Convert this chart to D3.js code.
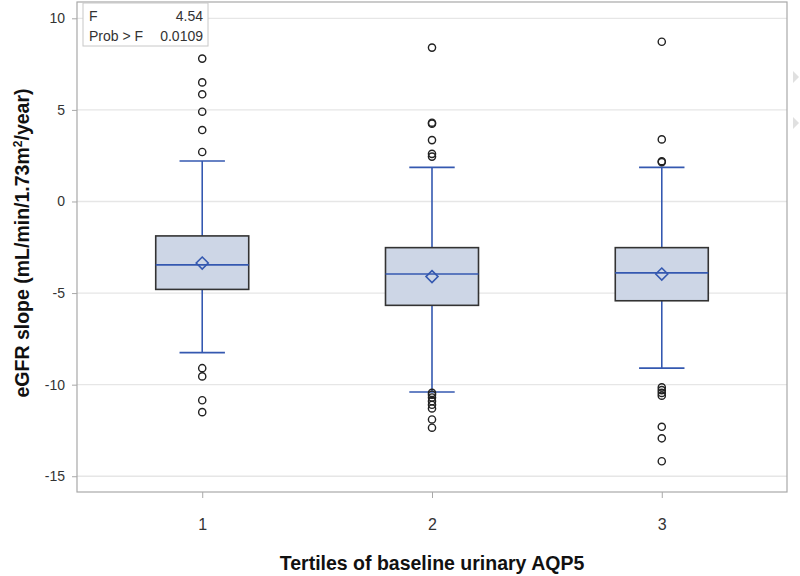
<!DOCTYPE html>
<html>
<head>
<meta charset="utf-8">
<script src="https://cdn.jsdelivr.net/npm/d3@7"></script>
<style>
  body { margin: 0; background: #fff; }
  svg { display: block; font-family: 'Liberation Sans', Arial, sans-serif; }
</style>
</head>
<body>
<figure style="margin:0"></figure>
<script>
const width = 800
const height = 576

// values
const groups = ['1', '2', '3']
const q1 = [-4.80, -5.67, -5.42]
const median = [-3.46, -3.96, -3.90]
const q3 = [-1.88, -2.52, -2.52]
const mean = [-3.36, -4.10, -3.96]
const whiskerLow = [-8.25, -10.40, -9.10]
const whiskerHigh = [2.21, 1.86, 1.86]
const outliers = [
  [7.8, 6.5, 5.85, 4.9, 3.9, 2.7, -9.1, -9.55, -10.85, -11.5],
  [8.4, 4.3, 4.25, 3.35, 2.6, 2.45, -10.45, -10.55, -10.7, -10.9, -11.1, -11.3, -11.9, -12.35],
  [8.72, 3.39, 2.2, 2.15, -10.15, -10.3, -10.45, -10.6, -12.3, -12.93, -14.18]
]
const yTicks = [10, 5, 0, -5, -10, -15]
const statLabels = ['F', 'Prob > F']
const statValues = ['4.54', '0.0109']

const margin = { left: 77, right: 13, top: 2, bottom: 84 }

const svg = d3.select('figure').append('svg')
  .attr('width', width)
  .attr('height', height)

const x = d3.scalePoint()
  .domain(groups)
  .range([margin.left, width - margin.right])
  .padding(0.545)

const y = d3.scaleLinear()
  .domain([-15.86, 10.89])
  .range([height - margin.bottom, margin.top])

const boxHalf = 46.5
const capHalf = 22.7
const blue = '#3458b0'

// grid
svg.append('g')
  .selectAll('line')
  .data(yTicks)
  .join('line')
  .attr('x1', margin.left)
  .attr('x2', width - margin.right)
  .attr('y1', d => y(d))
  .attr('y2', d => y(d))
  .attr('stroke', '#e6e6e6')
  .attr('stroke-width', 1.3)

// frame
svg.append('rect')
  .attr('x', margin.left)
  .attr('y', margin.top)
  .attr('width', width - margin.left - margin.right)
  .attr('height', height - margin.top - margin.bottom)
  .attr('fill', 'none')
  .attr('stroke', '#a8a8a8')
  .attr('stroke-width', 1.2)

// axes
const yAxis = svg.append('g')
  .attr('transform', `translate(${margin.left},0)`)
  .call(d3.axisLeft(y).tickValues(yTicks).tickFormat(d => String(d)).tickSize(5).tickPadding(7))
yAxis.select('.domain').remove()
yAxis.selectAll('line').attr('stroke', '#a8a8a8')
yAxis.selectAll('text').attr('font-size', 14).attr('fill', '#333')

const xAxis = svg.append('g')
  .attr('transform', `translate(0,${height - margin.bottom})`)
  .call(d3.axisBottom(x).tickSize(6).tickPadding(21))
xAxis.select('.domain').remove()
xAxis.selectAll('line').attr('stroke', '#a8a8a8')
xAxis.selectAll('text').attr('font-size', 16).attr('fill', '#333')

// boxes
const rows = groups.map((g, i) => ({
  g,
  q1: q1[i],
  median: median[i],
  q3: q3[i],
  mean: mean[i],
  lo: whiskerLow[i],
  hi: whiskerHigh[i],
  out: outliers[i]
}))

const box = svg.append('g')
  .selectAll('g')
  .data(rows)
  .join('g')
  .attr('transform', d => `translate(${x(d.g)},0)`)

box.append('line')
  .attr('y1', d => y(d.hi))
  .attr('y2', d => y(d.q3))
  .attr('stroke', blue).attr('stroke-width', 1.6)
box.append('line')
  .attr('y1', d => y(d.q1))
  .attr('y2', d => y(d.lo))
  .attr('stroke', blue).attr('stroke-width', 1.6)
box.append('line')
  .attr('x1', -capHalf).attr('x2', capHalf)
  .attr('y1', d => y(d.hi)).attr('y2', d => y(d.hi))
  .attr('stroke', blue).attr('stroke-width', 1.6)
box.append('line')
  .attr('x1', -capHalf).attr('x2', capHalf)
  .attr('y1', d => y(d.lo)).attr('y2', d => y(d.lo))
  .attr('stroke', blue).attr('stroke-width', 1.6)

box.append('rect')
  .attr('x', -boxHalf)
  .attr('width', boxHalf * 2)
  .attr('y', d => y(d.q3))
  .attr('height', d => y(d.q1) - y(d.q3))
  .attr('fill', '#cdd6e6')
  .attr('stroke', '#333')
  .attr('stroke-width', 1.6)

box.append('line')
  .attr('x1', -boxHalf).attr('x2', boxHalf)
  .attr('y1', d => y(d.median)).attr('y2', d => y(d.median))
  .attr('stroke', blue).attr('stroke-width', 1.6)

box.append('path')
  .attr('d', d => {
    const cy = y(d.mean)
    return `M0,${cy - 6}L6,${cy}L0,${cy + 6}L-6,${cy}Z`
  })
  .attr('fill', 'none')
  .attr('stroke', blue)
  .attr('stroke-width', 1.6)

box.selectAll('circle')
  .data(d => d.out)
  .join('circle')
  .attr('cy', d => y(d))
  .attr('r', 3.6)
  .attr('fill', 'none')
  .attr('stroke', '#222')
  .attr('stroke-width', 1.4)

// stats inset
const inset = svg.append('g').attr('transform', 'translate(83,3)')
inset.append('rect')
  .attr('width', 125).attr('height', 43)
  .attr('fill', '#fff')
  .attr('stroke', '#c8c8c8')
inset.selectAll('.lab')
  .data(statLabels)
  .join('text')
  .attr('class', 'lab')
  .attr('x', 6)
  .attr('y', (d, i) => 18 + i * 20)
  .attr('font-size', 14)
  .attr('fill', '#333')
  .text(d => d)
inset.selectAll('.val')
  .data(statValues)
  .join('text')
  .attr('class', 'val')
  .attr('x', 120)
  .attr('y', (d, i) => 18 + i * 20)
  .attr('text-anchor', 'end')
  .attr('font-size', 14)
  .attr('fill', '#333')
  .text(d => d)

// titles
svg.append('text')
  .attr('x', (margin.left + width - margin.right) / 2)
  .attr('y', 570)
  .attr('text-anchor', 'middle')
  .attr('font-size', 19.5)
  .attr('font-weight', 'bold')
  .attr('fill', '#111')
  .text('Tertiles of baseline urinary AQP5')

const yt = svg.append('text')
  .attr('transform', 'translate(29,243) rotate(-90)')
  .attr('text-anchor', 'middle')
  .attr('font-size', 19.5)
  .attr('font-weight', 'bold')
  .attr('fill', '#111')
yt.append('tspan').text('eGFR slope (mL/min/1.73m')
yt.append('tspan').attr('dy', -7).attr('font-size', 12).text('2')
yt.append('tspan').attr('dy', 7).text('/year)')

// little grey markers right of the frame
svg.append('g')
  .selectAll('path')
  .data([77, 123])
  .join('path')
  .attr('d', d => `M793,${d - 6}L799,${d}L793,${d + 6}Z`)
  .attr('fill', '#e0e0e0')
</script>
</body>
</html>
